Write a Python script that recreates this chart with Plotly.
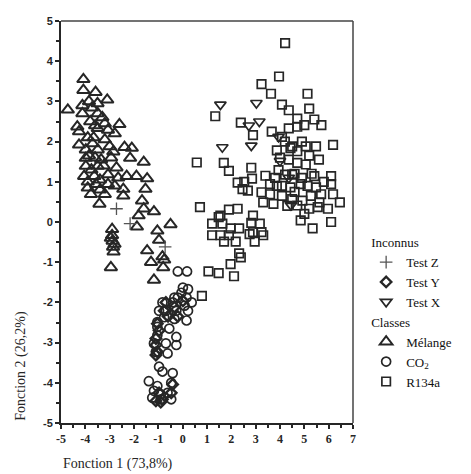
import plotly.graph_objects as go

# ---------------- data ----------------
melange_x = [-4.08,-4.08,-3.58,-3.1,-4.72,-4.12,-3.73,-3.49,-4.12,-2.6,-4.33,-4.26,-3.49,-3.07,-2.79,-3.2,
             -4.26,-3.66,-3.98,-3.49,-3.0,-2.39,-2.09,-2.16,-1.6,-3.98,-3.35,-2.94,-3.98,-3.49,-2.72,-4.05,
             -3.63,-3.07,-2.3,-1.9,-1.46,-3.56,-3.07,-2.79,-2.44,-1.53,-3.77,-3.2,-2.44,-3.42,-1.67,-1.6,
             -1.18,-1.81,-1.88,-1.04,-0.5,-2.9,-2.9,-2.88,-2.86,-2.84,-2.95,-0.97,-1.46,-0.83,-0.76,-1.3,
             -0.8,-1.18,-2.8,-2.95,-3.8,-3.6,-3.9,-3.7,-3.3,-3.85,-3.6,-3.25,-3.75,-3.4,-3.9,-3.2,-2.85,
             -3.5,-3.85,-2.65,-3.9,-3.4]
melange_y = [3.55,3.28,3.23,3.04,2.79,2.9,2.84,2.7,2.7,2.43,2.37,2.25,2.33,2.29,2.2,2.05,
             1.92,2.1,1.8,1.8,1.88,1.86,1.84,1.59,1.49,1.59,1.55,1.6,1.39,1.39,1.35,1.14,
             1.14,1.18,1.14,1.14,1.08,0.94,0.94,0.9,0.82,0.82,0.69,0.69,0.65,0.45,0.53,0.33,
             0.26,0.16,-0.12,-0.22,-0.06,-0.18,-0.33,-0.47,-0.62,-0.74,-1.13,-0.45,-0.71,-0.86,-0.94,-1.0,
             -1.13,-1.44,-0.55,-0.4,2.5,2.4,2.1,1.95,2.6,1.65,1.6,1.4,1.3,1.05,1.0,2.45,1.75,
             2.95,3.0,1.1,0.85,0.8]

co2_x = [-0.2,0.18,0.01,0.22,-0.05,-0.2,0.16,-0.34,-0.83,-0.41,0.08,0.37,-0.97,-0.69,-0.26,0.22,
         -0.76,-0.34,0.16,-1.04,-1.04,-0.55,-1.04,-0.26,-0.26,-1.18,-0.69,-1.1,-0.62,-0.97,-0.83,-0.41,
         -1.39,-1.04,-0.47,-1.18,-0.9,-1.25,-0.9,-0.47,-0.62]
co2_y = [-1.23,-1.23,-1.63,-1.67,-1.76,-1.88,-1.88,-1.88,-2.0,-2.0,-2.08,-2.0,-2.21,-2.21,-2.21,-2.21,
         -2.37,-2.41,-2.45,-2.49,-2.61,-2.65,-2.82,-2.86,-3.06,-3.02,-3.02,-3.23,-3.27,-3.6,-3.72,-3.76,
         -3.96,-4.08,-4.0,-4.2,-4.29,-4.37,-4.41,-4.41,-4.25]

r134a_x = [4.21,3.96,3.24,3.63,5.13,1.34,4.08,4.36,5.2,2.39,2.89,3.66,4.71,5.0,5.41,5.7,4.36,4.71,
           4.08,5.48,6.18,4.43,4.71,5.06,3.87,0.58,1.69,1.9,2.82,4.36,4.71,5.06,5.41,3.94,4.21,6.1,
           6.1,2.26,2.53,2.85,3.59,3.24,3.59,4.08,4.43,4.85,5.13,5.48,5.69,6.18,6.46,4.08,4.5,4.92,
           5.27,5.62,3.31,3.73,4.71,5.2,5.55,5.97,4.85,5.34,6.1,0.71,1.55,1.9,2.26,1.21,1.63,1.97,
           2.32,2.82,2.89,3.17,3.24,1.21,1.55,1.9,1.7,2.18,2.75,2.96,3.31,2.32,2.39,1.97,1.06,1.48,
           2.11,0.79,2.46,2.68,3.87,4.5,1.48,2.89,4.5,4.0,4.6,5.3,4.9,3.8,4.3,5.8,5.0,4.6,5.2,4.9,
           5.6,4.2,3.4]
r134a_y = [4.45,3.62,3.43,3.19,3.19,2.63,2.92,2.78,2.82,2.47,2.16,2.25,2.57,2.41,2.55,2.41,2.33,2.37,
           2.12,1.88,1.92,1.84,1.76,1.88,1.78,1.48,1.47,1.27,1.35,1.55,1.47,1.43,1.14,1.29,1.18,1.14,
           0.94,0.98,1.0,1.08,0.94,0.74,0.69,0.9,0.86,0.94,0.9,0.86,0.69,0.69,0.49,0.65,0.57,0.53,
           0.65,0.49,0.49,0.45,0.41,0.33,0.37,0.33,0.04,-0.16,0.0,0.37,0.16,0.31,0.33,-0.04,-0.04,-0.16,
           -0.16,-0.02,-0.25,-0.04,-0.25,-0.33,-0.33,-0.33,-0.49,-0.49,-0.3,-0.49,-0.33,-0.78,-0.88,-1.05,-1.23,-1.27,
           -1.35,-1.84,0.82,0.78,0.9,1.18,0.12,0.16,1.88,1.6,1.2,1.2,1.1,1.1,0.4,1.0,0.2,0.75,1.65,2.0,
           1.55,2.0,1.15]

testz_x = [-2.72,-2.16,-0.72]
testz_y = [0.33,-0.04,-0.62]

testy_x = [-0.69,-0.76,-0.34,0.01,-0.2,-1.04,-0.97,-1.1,-1.1,-1.04,-1.1,-0.41,-0.97,-0.83,-0.47,-1.1,-0.9,-0.6]
testy_y = [-2.0,-2.21,-2.12,-1.96,-2.35,-2.53,-2.7,-2.9,-3.06,-3.23,-3.31,-4.04,-4.25,-4.41,-4.25,-4.45,-4.48,-2.35]

testx_x = [1.55,3.03,2.72,3.15,2.82,1.63,3.94,4.0,4.36,4.45]
testx_y = [2.92,2.96,2.4,2.5,1.9,1.86,2.12,1.52,1.1,0.42]

tick_vals = [-5,-4,-3,-2,-1,0,1,2,3,4,5,6,7]
tick_text = ["-5","-4","-3","-2","-1","0","1","2","3","4","5","6","7"]
ytick_vals = [-5,-4,-3,-2,-1,0,1,2,3,4,5]
ytick_text = ["-5","-4","-3","-2","-1","0","1","2","3","4","5"]

# ---------------- figure ----------------
ink = "#262626"
serif = "Liberation Serif"
fig = go.Figure()

def add(name, xs, ys, symbol, size, lw, group, gtitle, rank, color=ink):
    fig.add_trace(go.Scatter(
        x=xs, y=ys, mode="markers", name=name,
        legendgroup=group, legendgrouptitle_text=gtitle, legendrank=rank,
        marker=dict(symbol=symbol, size=size, color=color,
                    line=dict(width=lw, color=color)),
    ))

add("Mélange", melange_x, melange_y, "triangle-up-open", 11, 2.0, "classes", "Classes", 4)
add("CO<sub>2</sub>", co2_x, co2_y, "circle-open", 9, 1.7, "classes", "Classes", 5)
add("R134a", r134a_x, r134a_y, "square-open", 8.5, 1.7, "classes", "Classes", 6)
add("Test Z", testz_x, testz_y, "cross-thin-open", 9, 1.3, "inconnus", "Inconnus", 1, "#555555")
add("Test Y", testy_x, testy_y, "diamond-open", 8, 2.4, "inconnus", "Inconnus", 2)
add("Test X", testx_x, testx_y, "triangle-down-open", 10, 1.7, "inconnus", "Inconnus", 3)

# the page body has an 8px margin, so the figure is 8px smaller and margins compensate
fig.update_layout(
    width=463, height=466,
    margin=dict(l=53, r=118, t=7, b=51),
    paper_bgcolor="white", plot_bgcolor="white",
    font=dict(family=serif, color=ink, size=13),
    legend=dict(x=1.045, y=0.487, xanchor="left", yanchor="top",
                traceorder="grouped", tracegroupgap=0,
                font=dict(family=serif, size=13, color="#111"),
                grouptitlefont=dict(family=serif, size=13, color="#111"),
                bgcolor="rgba(0,0,0,0)"),
    xaxis=dict(range=[-5, 7], tickmode="array", tickvals=tick_vals, ticktext=tick_text,
               showgrid=False, zeroline=False, showline=True, linecolor=ink, linewidth=2,
               ticks="outside", ticklen=4, tickwidth=1.5, tickcolor=ink,
               minor=dict(ticks="outside", ticklen=3, dtick=0.5, tick0=0, tickcolor=ink, showgrid=False),
               tickfont=dict(family=serif, size=12, color=ink, weight="bold")),
    yaxis=dict(range=[-5, 5], tickmode="array", tickvals=ytick_vals, ticktext=ytick_text,
               showgrid=False, zeroline=False, showline=True, linecolor=ink, linewidth=2,
               ticks="outside", ticklen=4, tickwidth=1.5, tickcolor=ink,
               minor=dict(ticks="outside", ticklen=3, dtick=0.5, tick0=0, tickcolor=ink, showgrid=False),
               tickfont=dict(family="Liberation Sans", size=11, color=ink, weight="bold")),
    showlegend=True,
)

# top and right frame lines
fig.add_shape(type="line", xref="paper", yref="paper", x0=0, x1=1, y0=1, y1=1,
              line=dict(color="#444", width=1.5))
fig.add_shape(type="line", xref="paper", yref="paper", x0=1, x1=1, y0=0, y1=1,
              line=dict(color="#444", width=1.5))

# axis titles
fig.add_annotation(text="Fonction 1 (73,8%)", xref="paper", yref="paper",
                   x=0.0, y=-0.103, xanchor="left", yanchor="middle", showarrow=False,
                   font=dict(family=serif, size=14, color=ink))
fig.add_annotation(text="Fonction 2 (26,2%)", xref="paper", yref="paper",
                   x=-0.138, y=0.0, xanchor="center", yanchor="bottom", textangle=-90,
                   showarrow=False, font=dict(family=serif, size=14, color=ink))

fig.write_html("out.html")
